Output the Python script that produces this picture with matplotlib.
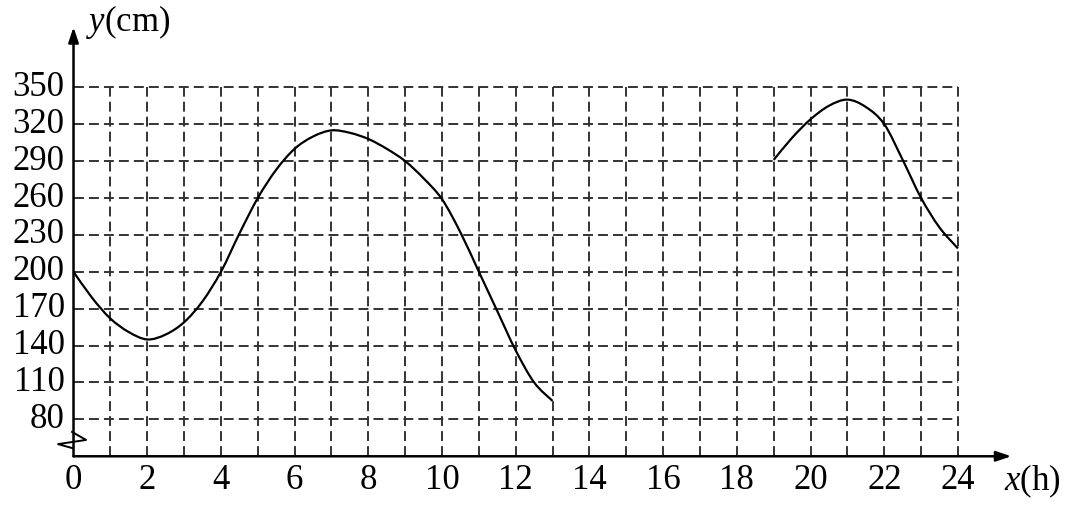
import matplotlib
matplotlib.use('Agg')
import matplotlib.pyplot as plt
from matplotlib.path import Path
from matplotlib.patches import PathPatch
import numpy as np

plt.rcParams['font.family'] = ['Liberation Serif', 'DejaVu Serif']
plt.rcParams['mathtext.fontset'] = 'custom'
plt.rcParams['mathtext.rm'] = 'Liberation Serif'
plt.rcParams['mathtext.it'] = 'Liberation Serif:italic'

# data (half-hour steps)
hours_a = [0, 0.5, 1, 1.5, 2, 2.5, 3, 3.5, 4, 4.5, 5, 5.5, 6, 6.5, 7,
           7.5, 8, 8.5, 9, 9.5, 10, 10.5, 11, 11.5, 12, 12.5, 13]
depth_a = [200, 179, 162, 151, 145, 149, 159, 176, 200, 231, 260, 283, 300, 310, 315,
           313, 308, 300, 290, 276, 259, 232, 200, 168, 136, 110, 95]
hours_b = [19, 19.5, 20, 20.5, 21, 21.5, 22, 22.5, 23, 23.5, 24]
depth_b = [291, 309, 324, 335, 340, 334, 320, 291, 260, 236, 219]

x_ticks = list(range(0, 25, 2))
y_ticks = [80, 110, 140, 170, 200, 230, 260, 290, 320, 350]
y_base = 50


def smooth_curve(ax, xs, ys, **kw):
    # draw a smooth line through the points as bezier segments
    p = np.column_stack([xs, ys]).astype(float)
    p = np.vstack([p[0], p, p[-1]])
    verts = [tuple(p[1])]
    codes = [Path.MOVETO]
    for i in range(1, len(p) - 2):
        c1 = p[i] + (p[i + 1] - p[i - 1]) / 6
        c2 = p[i + 1] - (p[i + 2] - p[i]) / 6
        verts += [tuple(c1), tuple(c2), tuple(p[i + 1])]
        codes += [Path.CURVE4] * 3
    ax.add_patch(PathPatch(Path(verts, codes), fill=False, **kw))


fig = plt.figure(figsize=(10.7, 5.12), dpi=100)
ax = fig.add_axes([0, 0, 1, 1])
ax.set_xlim(-1.995, 27.04)
ax.set_ylim(4.7, 421)
ax.axis('off')

grid_kw = dict(color='#333333', lw=1.4, ls=(0, (5.1, 2.6)), zorder=1)
for h in range(1, 25):
    ax.plot([h, h], [y_base, y_ticks[-1]], **grid_kw)
for v in y_ticks:
    ax.plot([0, 24], [v, v], **grid_kw)

# axes with arrows
ax.annotate('', xy=(25.45, y_base), xytext=(0, y_base),
            arrowprops=dict(arrowstyle='-|>,head_length=0.9,head_width=0.3', color='black', lw=1.8,
                            shrinkA=0, shrinkB=0), zorder=3)
ax.annotate('', xy=(0, 399), xytext=(0, y_base),
            arrowprops=dict(arrowstyle='-|>,head_length=0.9,head_width=0.3', color='black', lw=1.8,
                            shrinkA=0, shrinkB=0), zorder=3)

# axis break mark
ax.plot([-0.04, 0.34, -0.42, -0.04], [69.8, 63.3, 59.9, 56.7], color='black', lw=1.4, zorder=3)

smooth_curve(ax, hours_a, depth_a, edgecolor='black', lw=1.6, zorder=4)
smooth_curve(ax, hours_b, depth_b, edgecolor='black', lw=1.6, zorder=4)

for h in x_ticks:
    ax.text(h, 30, str(h), ha='center', va='center', fontsize=25)
for v in y_ticks:
    ax.text(-0.24, v, str(v), ha='right', va='center', fontsize=25)

ax.text(25.25, 30, '$x$(h)', ha='left', va='center', fontsize=25)
ax.text(0.35, 403, '$y$(cm)', ha='left', va='center', fontsize=25)

fig.savefig('out.png', dpi=100)
